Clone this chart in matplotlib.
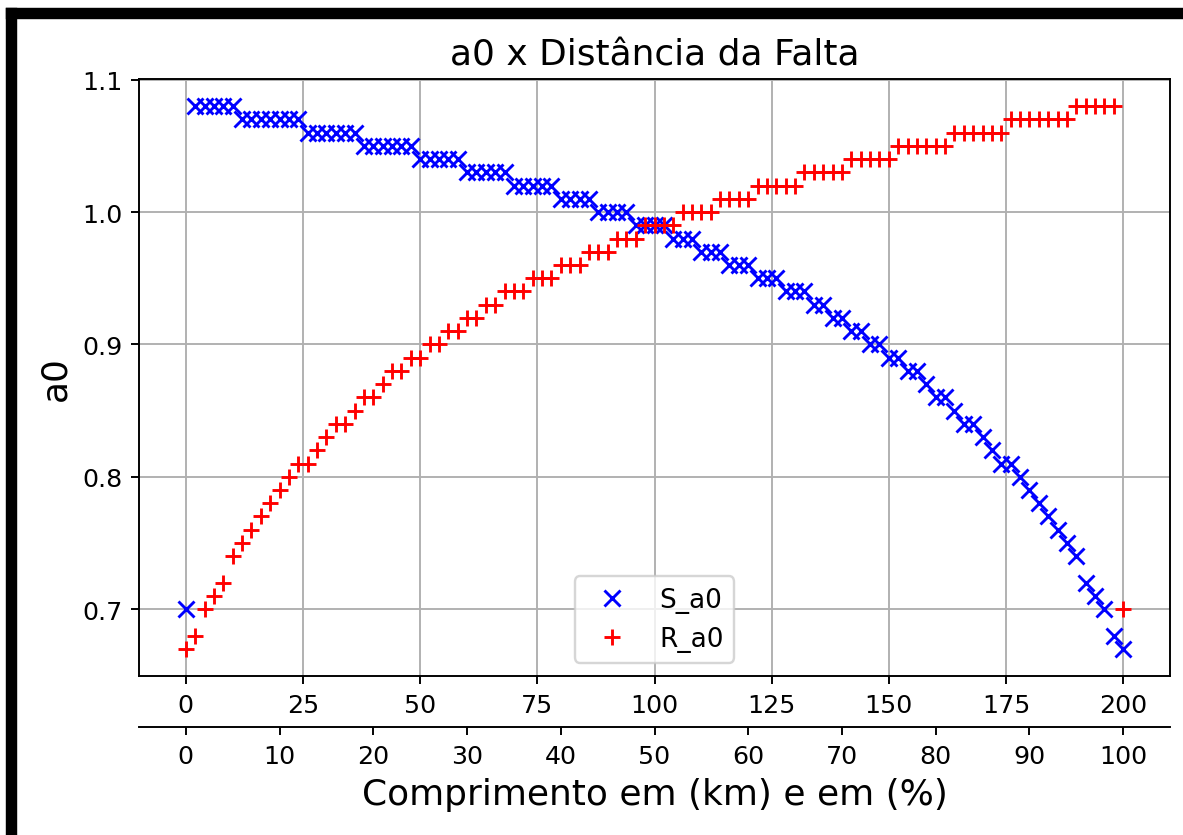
import matplotlib
matplotlib.use('Agg')
import matplotlib.pyplot as plt
from matplotlib.patches import Rectangle

# fault distance along the line (km), one sample every 2 km
km = list(range(0, 201, 2))

s_a0 = [0.70,
        1.08, 1.08, 1.08, 1.08, 1.08,
        1.07, 1.07, 1.07, 1.07, 1.07, 1.07, 1.07,
        1.06, 1.06, 1.06, 1.06, 1.06, 1.06,
        1.05, 1.05, 1.05, 1.05, 1.05, 1.05,
        1.04, 1.04, 1.04, 1.04, 1.04,
        1.03, 1.03, 1.03, 1.03, 1.03,
        1.02, 1.02, 1.02, 1.02, 1.02,
        1.01, 1.01, 1.01, 1.01,
        1.00, 1.00, 1.00, 1.00,
        0.99, 0.99, 0.99, 0.99,
        0.98, 0.98, 0.98,
        0.97, 0.97, 0.97,
        0.96, 0.96, 0.96,
        0.95, 0.95, 0.95,
        0.94, 0.94, 0.94,
        0.93, 0.93, 0.92, 0.92, 0.91, 0.91, 0.90, 0.90, 0.89, 0.89, 0.88, 0.88,
        0.87, 0.86, 0.86, 0.85, 0.84, 0.84, 0.83, 0.82, 0.81, 0.81,
        0.80, 0.79, 0.78, 0.77, 0.76, 0.75, 0.74, 0.72, 0.71, 0.70, 0.68, 0.67]

r_a0 = [0.67, 0.68, 0.70, 0.71, 0.72, 0.74, 0.75, 0.76, 0.77, 0.78, 0.79, 0.80,
        0.81, 0.81, 0.82, 0.83, 0.84, 0.84, 0.85, 0.86, 0.86, 0.87,
        0.88, 0.88, 0.89, 0.89, 0.90, 0.90, 0.91, 0.91, 0.92, 0.92, 0.93, 0.93,
        0.94, 0.94, 0.94,
        0.95, 0.95, 0.95,
        0.96, 0.96, 0.96,
        0.97, 0.97, 0.97,
        0.98, 0.98, 0.98,
        0.99, 0.99, 0.99, 0.99,
        1.00, 1.00, 1.00, 1.00,
        1.01, 1.01, 1.01, 1.01,
        1.02, 1.02, 1.02, 1.02, 1.02,
        1.03, 1.03, 1.03, 1.03, 1.03,
        1.04, 1.04, 1.04, 1.04, 1.04,
        1.05, 1.05, 1.05, 1.05, 1.05, 1.05,
        1.06, 1.06, 1.06, 1.06, 1.06, 1.06,
        1.07, 1.07, 1.07, 1.07, 1.07, 1.07, 1.07,
        1.08, 1.08, 1.08, 1.08, 1.08,
        0.70]

y_ticks = [0.7, 0.8, 0.9, 1.0, 1.1]
pct_ticks = list(range(0, 101, 10))

DPI = 173
W, H = 1183, 836

fig = plt.figure(figsize=(W / DPI, H / DPI), dpi=DPI, facecolor='white')
ax = fig.add_axes([139 / W, 1 - 677 / H, (1170 - 139) / W, (677 - 80) / H])

ax.plot(km, s_a0, 'bx', ms=7, mew=1.2, label='S_a0')
ax.plot(km, r_a0, 'r+', ms=7, mew=1.2, label='R_a0')
ax.set_yticks(y_ticks)
ax.tick_params(labelsize=10.5)
ax.grid(True)
ax.set_title('a0 x Distância da Falta', fontsize=15)
ax.set_ylabel('a0', fontsize=15)
ax.legend(loc='lower center', fontsize=11)

# second x axis: same distance as % of the line length
sec = ax.secondary_xaxis(-51 / 597, functions=(lambda x: x / 2, lambda x: x * 2))
sec.set_xticks(pct_ticks)
sec.tick_params(labelsize=10.5)
sec.set_xlabel('Comprimento em (km) e em (%)', fontsize=15)

# black frame of the screenshot (left and top)
fig.patches.append(Rectangle((7 / W, 0), 9 / W, (H - 10) / H,
                             transform=fig.transFigure, color='black'))
fig.patches.append(Rectangle((7 / W, 1 - 19 / H), 1 - 7 / W, 9 / H,
                             transform=fig.transFigure, color='black'))

fig.savefig('out.png', dpi=DPI)
